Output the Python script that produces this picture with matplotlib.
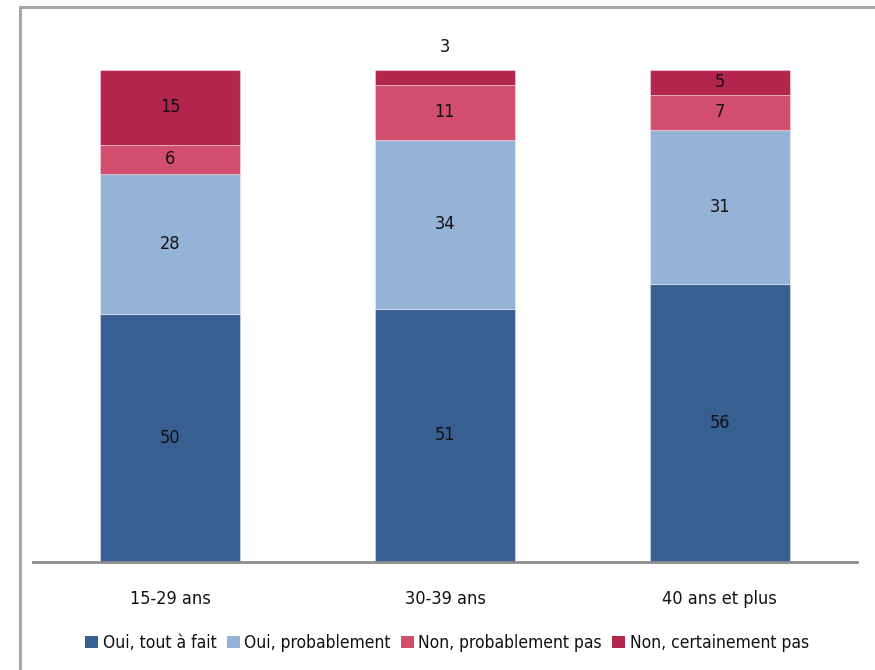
import matplotlib
matplotlib.use("Agg")
import matplotlib.pyplot as plt
from matplotlib.patches import Rectangle, Patch
import numpy as np

categories = ["15-29 ans", "30-39 ans", "40 ans et plus"]
series_names = ["Oui, tout à fait", "Oui, probablement", "Non, probablement pas", "Non, certainement pas"]
oui_tout = [50, 51, 56]
oui_prob = [28, 34, 31]
non_prob = [6, 11, 7]
non_cert = [15, 3, 5]
colors = ["#375F91", "#95B3D7", "#D24E6F", "#B2254D"]

plt.rcParams['font.family'] = ['DejaVu Sans']
plt.rcParams['font.stretch'] = 'condensed'

W, H = 875, 670
fig = plt.figure(figsize=(W / 100, H / 100), dpi=100)

# outer frame
fig.patches.append(Rectangle((20 / W, -0.1), 1.2, (H - 7) / H + 0.1, transform=fig.transFigure,
                             fill=False, edgecolor="#A6A6A6", linewidth=2.2))

ax_left, ax_right = 33, 857
ax_bottom = 562
unit = 4.97
ymax = 100
ax = fig.add_axes([ax_left / W, 1 - ax_bottom / H, (ax_right - ax_left) / W, ymax * unit / H])
ax.set_xlim(-0.5, 2.5)
ax.set_ylim(0, ymax)

fs = 13
x = np.arange(len(categories))
series = [oui_tout, oui_prob, non_prob, non_cert]
bottom = np.zeros(len(categories))
for vals, col, name in zip(series, colors, series_names):
    vals = np.array(vals, dtype=float)
    ax.bar(x, vals, bottom=bottom, width=0.51, color=col, edgecolor=(1, 1, 1, 0.35),
           linewidth=0.8, label=name)
    for xi, b, v in zip(x, bottom, vals):
        if v >= 4:
            ax.text(xi, b + v / 2, f"{int(v)}", ha="center", va="center", fontsize=fs, color="#111111")
        else:
            ax.text(xi, b + v + 4.6, f"{int(v)}", ha="center", va="center", fontsize=fs,
                    color="#111111", clip_on=False)
    bottom += vals

for s in ["top", "right", "left"]:
    ax.spines[s].set_visible(False)
ax.spines["bottom"].set_color("#8C8C8C")
ax.spines["bottom"].set_linewidth(2)
ax.set_yticks([])
ax.set_xticks(x)
ax.set_xticklabels(categories, fontsize=fs, color="#111111")
ax.tick_params(axis="x", length=0, pad=20)

handles = [Patch(facecolor=c, edgecolor="none") for c in colors]
fig.legend(handles, series_names, loc="center", bbox_to_anchor=(447 / W, 1 - 643 / H), ncol=4,
           frameon=False, fontsize=12.5, handlelength=0.75, handleheight=0.75, handletextpad=0.25,
           columnspacing=0.6, labelcolor="#111111")

fig.savefig("out.png", dpi=100)
